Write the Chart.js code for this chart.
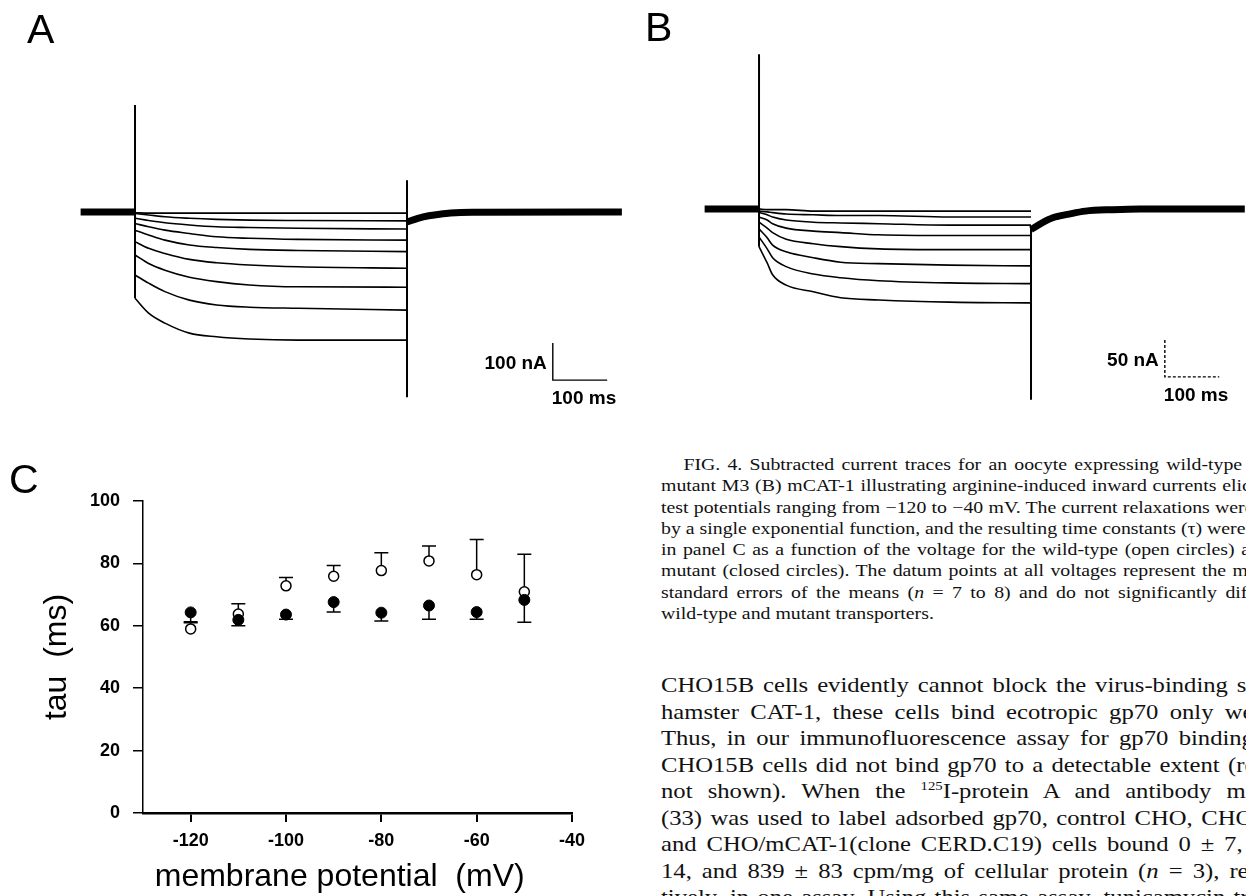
<!DOCTYPE html>
<html>
<head>
<meta charset="utf-8">
<script src="https://cdn.jsdelivr.net/npm/chart.js@4.4.0/dist/chart.umd.min.js"></script>
<style>
  body { margin: 0; width: 1246px; height: 896px; overflow: hidden; background: #fff; position: relative; }
  canvas { position: absolute; }
  .letter { position: absolute; font: 41px "Liberation Sans", Arial, sans-serif; line-height: 1; color: #000; }
  .cap { position: absolute; left: 661px; top: 454px; width: 571px; font: 17.7px/21.3px "Liberation Serif", "Times New Roman", serif; color: #111; transform: scaleX(1.12); transform-origin: 0 0; }
  .txt { position: absolute; left: 661px; top: 672px; width: 571px; font: 22px/26.5px "Liberation Serif", "Times New Roman", serif; color: #111; transform: scaleX(1.12); transform-origin: 0 0; }
  .cap div, .txt div { white-space: nowrap; text-align: justify; text-align-last: justify; }
  .cap div.first { text-indent: 20px; }
  sup { font-size: 0.6em; line-height: 0; }
</style>
</head>
<body>
<canvas id="chartA" width="640" height="420" style="left:0;top:0"></canvas>
<canvas id="chartB" width="606" height="420" style="left:640px;top:0"></canvas>
<canvas id="chartC" width="640" height="456" style="left:0;top:440px"></canvas>

<div class="letter" style="left:27px;top:9px">A</div>
<div class="letter" style="left:645px;top:7px">B</div>
<div class="letter" style="left:9px;top:459px">C</div>

<div class="cap">
  <div class="first">FIG. 4. Subtracted current traces for an oocyte expressing wild-type (A) or</div>
  <div>mutant M3 (B) mCAT-1 illustrating arginine-induced inward currents elicited at</div>
  <div>test potentials ranging from −120 to −40 mV. The current relaxations were fitted</div>
  <div>by a single exponential function, and the resulting time constants (τ) were plotted</div>
  <div>in panel C as a function of the voltage for the wild-type (open circles) and the</div>
  <div>mutant (closed circles). The datum points at all voltages represent the means ±</div>
  <div>standard errors of the means (<i>n</i> = 7 to 8) and do not significantly differ for</div>
  <div style="text-align:left;text-align-last:left">wild-type and mutant transporters.</div>
</div>

<div class="txt">
  <div>CHO15B cells evidently cannot block the virus-binding site of</div>
  <div>hamster CAT-1, these cells bind ecotropic gp70 only weakly.</div>
  <div>Thus, in our immunofluorescence assay for gp70 binding, the</div>
  <div>CHO15B cells did not bind gp70 to a detectable extent (results</div>
  <div>not shown). When the <sup>125</sup>I-protein A and antibody method</div>
  <div>(33) was used to label adsorbed gp70, control CHO, CHO15B,</div>
  <div>and CHO/mCAT-1(clone CERD.C19) cells bound 0 ± 7, 30 ±</div>
  <div>14, and 839 ± 83 cpm/mg of cellular protein (<i>n</i> = 3), respec-</div>
  <div>tively, in one assay. Using this same assay, tunicamycin-treated</div>
</div>

<script>
// panel A: wild-type, current (nA) read at these times (ms) after the step
const tA = [0, 25, 55, 100, 150, 210, 300, 500];
const tracesA = [
  [-2, -3, -3, -3, -3, -3, -3, -3],
  [-4, -8, -13, -17, -20, -22, -23, -24],
  [-17, -23, -29, -35, -40, -42, -44, -46],
  [-31, -40, -49, -58, -67, -71, -74, -76],
  [-49, -62, -76, -89, -96, -101, -104, -107],
  [-80, -98, -112, -128, -137, -143, -148, -152],
  [-116, -139, -157, -176, -188, -197, -202, -203],
  [-170, -192, -215, -238, -251, -257, -260, -265],
  [-233, -273, -300, -327, -337, -343, -346, -346]
];
const tPre = [-100, 0];
const iPre = [0, 0];
const tTailA = [500, 520, 540, 560, 580, 620, 895];
const iTailA = [-27, -17, -10, -6, -3, -1, 0];
const tOnA = [0, 0], iOnA = [289, -233];
const tOffA = [500, 500], iOffA = [86, -500];
const barA_t = [768, 768, 868], barA_i = [-354, -454, -454];
const barA_text = ['100 nA', '100 ms'];

// panel B: mutant M3
const tB = [0, 15, 25, 50, 100, 150, 220, 350, 500];
const tracesB = [
  [0, -1, -1, -1, -3, -3, -3, -3, -3],
  [-3, -4, -5, -7, -8, -9, -9, -11, -11],
  [-5, -8, -11, -15, -18, -19, -20, -22, -22],
  [-11, -15, -20, -26, -30, -32, -35, -36, -36],
  [-18, -26, -32, -41, -47, -51, -54, -55, -55],
  [-27, -39, -49, -58, -66, -72, -74, -76, -77],
  [-38, -54, -66, -78, -88, -93, -97, -100, -101],
  [-51, -73, -89, -103, -112, -120, -123, -126, -127]
];
const tPreB = [-100, 0];
const iPreB = [0, 0];
const tTailB = [500, 520, 540, 570, 600, 650, 700, 893];
const iTailB = [-28, -19, -12, -7, -3, -1, 0, 0];
const tOnB = [0, 0], iOnB = [209, -51];
const tOffB = [500, 500], iOffB = [-24, -258];
const barB_t = [746, 746, 846], barB_i = [-177, -227, -227];
const barB_text = ['50 nA', '100 ms'];

// panel C: tau vs membrane potential
const vm = [-120, -110, -100, -90, -80, -70, -60, -50];
const tauWT = [59, 63.8, 72.8, 75.9, 77.7, 80.8, 76.4, 70.9];
const tauWTHi = [61, 67.1, 75.5, 79.3, 83.4, 85.6, 87.7, 82.9];
const tauM3 = [64.3, 61.9, 63.6, 67.6, 64.2, 66.5, 64.4, 68.3];
const tauM3Lo = [61.3, 60.0, 62.1, 64.4, 61.5, 62.1, 62.1, 61.1];
const xTicks = [-120, -100, -80, -60, -40];
const yTicks = [0, 20, 40, 60, 80, 100];

const SANS = '"Liberation Sans", Arial, sans-serif';

function pts(xs, ys) {
  return xs.map((x, i) => ({x: x, y: ys[i]}));
}

function line(xs, ys, w, extra) {
  return Object.assign({
    data: pts(xs, ys),
    showLine: true,
    borderColor: '#000',
    backgroundColor: '#000',
    borderWidth: w,
    pointRadius: 0,
    tension: 0
  }, extra || {});
}

// scale bar text
const scaleBarLabels = {
  id: 'scaleBarLabels',
  afterDatasetsDraw(chart, args, opts) {
    const ctx = chart.ctx;
    const x = chart.scales.x, y = chart.scales.y;
    const px = x.getPixelForValue(opts.t[0]);
    const top = y.getPixelForValue(opts.i[0]);
    const bot = y.getPixelForValue(opts.i[1]);
    ctx.save();
    ctx.fillStyle = '#000';
    ctx.font = 'bold 19px ' + SANS;
    ctx.textBaseline = 'middle';
    ctx.textAlign = 'right';
    ctx.fillText(opts.text[0], px - 6, (top + bot) / 2 + 2);
    ctx.textAlign = 'left';
    ctx.fillText(opts.text[1], px - 1, bot + 19);
    ctx.restore();
  }
};

function traceChart(id, traces, ts, pre, tail, on, off, bar, dashBar, xr, yr, preW) {
  const ds = [];
  ds.push(line(pre[0], pre[1], preW));
  traces.forEach(tr => ds.push(line(ts, tr, 1.6, {cubicInterpolationMode: 'monotone'})));
  ds.push(line(tail[0], tail[1], 7, {cubicInterpolationMode: 'monotone'}));
  ds.push(line(on[0], on[1], 2));
  ds.push(line(off[0], off[1], 2));
  ds.push(line(bar[0], bar[1], 1.4, dashBar ? {borderDash: [3, 2]} : {}));
  return new Chart(document.getElementById(id), {
    type: 'scatter',
    data: {datasets: ds},
    options: {
      responsive: false,
      animation: false,
      devicePixelRatio: 1,
      layout: {padding: 0},
      plugins: {
        legend: {display: false},
        tooltip: {enabled: false},
        scaleBarLabels: {t: bar[0], i: [bar[1][0], bar[1][1]], text: bar[2]}
      },
      scales: {
        x: {type: 'linear', display: false, min: xr[0], max: xr[1]},
        y: {type: 'linear', display: false, min: yr[0], max: yr[1]}
      }
    },
    plugins: [scaleBarLabels]
  });
}

traceChart('chartA', tracesA, tA, [tPre, iPre], [tTailA, iTailA], [tOnA, iOnA], [tOffA, iOffA],
  [barA_t, barA_i, barA_text], false, [-248.2, 928.3], [-561.6, 572.4], 7);
traceChart('chartB', tracesB, tB, [tPreB, iPreB], [tTailB, iTailB], [tOnB, iOnB], [tOffB, iOffB],
  [barB_t, barB_i, barB_text], true, [-218.8, 895.2], [-285.2, 282.2], 7);

// error bars for panel C
const errorBars = {
  id: 'errorBars',
  beforeDatasetsDraw(chart) {
    const ctx = chart.ctx;
    const x = chart.scales.x, y = chart.scales.y;
    ctx.save();
    ctx.strokeStyle = '#000';
    ctx.lineWidth = 1.5;
    chart.data.datasets.forEach(ds => {
      ds.data.forEach((p, i) => {
        const px = x.getPixelForValue(p.x);
        const y0 = y.getPixelForValue(p.y);
        const y1 = y.getPixelForValue(ds.errTo[i]);
        ctx.beginPath();
        ctx.moveTo(px, y0);
        ctx.lineTo(px, y1);
        ctx.moveTo(px - 7, y1);
        ctx.lineTo(px + 7, y1);
        ctx.stroke();
      });
    });
    ctx.restore();
  }
};

new Chart(document.getElementById('chartC'), {
  type: 'scatter',
  data: {
    datasets: [
      {
        label: 'mutant',
        data: pts(vm, tauM3),
        errTo: tauM3Lo,
        pointRadius: 5.5,
        pointBackgroundColor: '#000',
        pointBorderColor: '#000',
        pointBorderWidth: 1,
        order: 0
      },
      {
        label: 'wild-type',
        data: pts(vm, tauWT),
        errTo: tauWTHi,
        pointRadius: 5,
        pointBackgroundColor: '#fff',
        pointBorderColor: '#000',
        pointBorderWidth: 1.5,
        order: 1
      }
    ]
  },
  options: {
    responsive: false,
    animation: false,
    devicePixelRatio: 1,
    layout: {padding: {top: 61, right: 68, left: 0, bottom: 0}},
    plugins: {legend: {display: false}, tooltip: {enabled: false}},
    scales: {
      x: {
        type: 'linear', min: -130, max: -40,
        afterBuildTicks: s => { s.ticks = xTicks.map(v => ({value: v})); },
        afterFit: s => { s.height = 83; },
        grid: {drawOnChartArea: false, color: '#000', lineWidth: 2, tickLength: 9},
        border: {color: '#000', width: 2.5},
        ticks: {color: '#000', font: {family: SANS, size: 18, weight: 'bold'}, padding: 8, maxRotation: 0, autoSkip: false},
        title: {display: true, text: 'membrane potential  (mV)    ', color: '#000', font: {family: SANS, size: 32}, padding: {top: 0, bottom: 0}}
      },
      y: {
        type: 'linear', min: 0, max: 100,
        afterBuildTicks: s => { s.ticks = yTicks.map(v => ({value: v})); },
        afterFit: s => { s.width = 143; },
        grid: {drawOnChartArea: false, color: '#000', lineWidth: 1.5, tickLength: 10},
        border: {color: '#000', width: 1.5},
        ticks: {color: '#000', font: {family: SANS, size: 18, weight: 'bold'}, padding: 13},
        title: {display: true, text: 'tau  (ms)', color: '#000', font: {family: SANS, size: 32}, padding: {top: 38, bottom: 0}}
      }
    }
  },
  plugins: [errorBars]
});
</script>
</body>
</html>
